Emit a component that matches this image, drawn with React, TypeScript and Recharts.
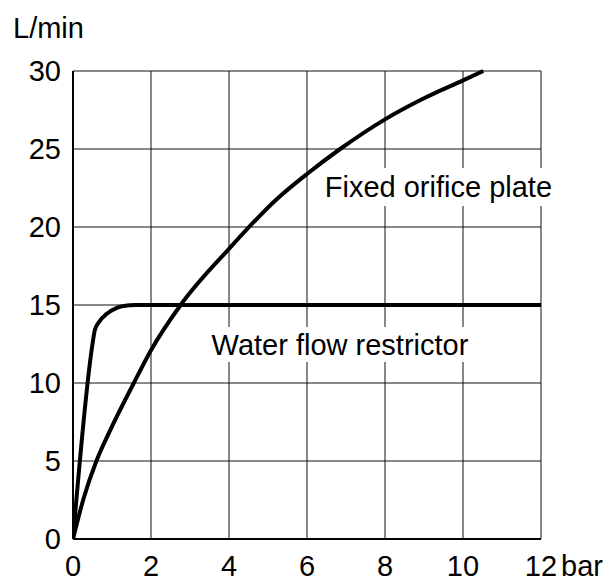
import React from "react";
import {
  LineChart,
  Line,
  XAxis,
  YAxis,
  CartesianGrid,
  ReferenceArea,
} from "recharts";

// pressure (bar) -> flow (L/min)
const orificeBar = [0, 0.26, 0.6, 0.94, 1.56, 2, 2.76, 4, 5.23, 6, 6.85, 8, 9, 10, 10.52];
const orificeFlow = [0, 2.5, 5, 6.9, 10, 12.1, 15, 18.6, 21.8, 23.4, 25, 26.9, 28.25, 29.4, 30];

const restrictorBar = [0, 0.5, 0.56, 0.68, 0.85, 1.11, 1.45, 1.6, 12];
const restrictorFlow = [0, 12.5, 13.4, 13.95, 14.4, 14.8, 14.98, 15, 15];

const xTicks = [0, 2, 4, 6, 8, 10, 12];
const yTicks = [0, 5, 10, 15, 20, 25, 30];

const FONT = "'Liberation Sans', Arial, sans-serif";
const FS = 29;

const toPoints = (xs: number[], ys: number[]) => xs.map((x, i) => ({ x, y: ys[i] }));

const orifice = toPoints(orificeBar, orificeFlow);
const restrictor = toPoints(restrictorBar, restrictorFlow);

function XTick(props: any) {
  const { x, y, payload } = props;
  const last = payload.value === xTicks[xTicks.length - 1];
  return (
    <g>
      <text x={x} y={y} dy="0.71em" textAnchor="middle" fill="#000" fontSize={FS} fontFamily={FONT}>
        {payload.value}
      </text>
      {last && (
        <text x={x + 20} y={y} dy="0.71em" textAnchor="start" fill="#000" fontSize={FS} fontFamily={FONT}>
          bar
        </text>
      )}
    </g>
  );
}

export default function App() {
  return (
    <div style={{ position: "absolute", left: 0, top: 0, background: "#fff" }}>
      <LineChart width={615} height={581} margin={{ top: 71, right: 74, left: 0, bottom: 0 }}>
        <CartesianGrid stroke="#111" strokeWidth={1} horizontalValues={yTicks} verticalValues={xTicks} />
        <XAxis
          type="number"
          dataKey="x"
          domain={[0, 12]}
          ticks={xTicks}
          height={42}
          tickLine={false}
          tickMargin={10}
          axisLine={{ stroke: "#000", strokeWidth: 2 }}
          tick={<XTick />}
          allowDataOverflow
        />
        <YAxis
          type="number"
          dataKey="y"
          domain={[0, 30]}
          ticks={yTicks}
          width={73}
          tickLine={false}
          tickMargin={6}
          axisLine={{ stroke: "#000", strokeWidth: 2 }}
          tick={{ fill: "#000", fontSize: FS, fontFamily: FONT }}
          label={{
            content: (p: any) => (
              <text
                x={p.viewBox.x + 13}
                y={p.viewBox.y - 33}
                fill="#000"
                fontSize={FS}
                fontFamily={FONT}
              >
                L/min
              </text>
            ),
          }}
        />
        <ReferenceArea
          x1={6.25}
          x2={12.5}
          y1={21.35}
          y2={23.78}
          fill="#fff"
          fillOpacity={1}
          stroke="none"
          ifOverflow="visible"
          label={{ value: "Fixed orifice plate", position: "insideLeft", offset: 8, fill: "#000", fontSize: FS, fontFamily: FONT }}
        />
        <ReferenceArea
          x1={3.4}
          x2={10.5}
          y1={11.35}
          y2={13.59}
          fill="#fff"
          fillOpacity={1}
          stroke="none"
          ifOverflow="visible"
          label={{ value: "Water flow restrictor", position: "insideLeft", offset: 6, fill: "#000", fontSize: FS, fontFamily: FONT }}
        />
        <Line
          data={orifice}
          dataKey="y"
          type="monotone"
          stroke="#000"
          strokeWidth={4}
          dot={false}
          isAnimationActive={false}
        />
        <Line
          data={restrictor}
          dataKey="y"
          type="monotone"
          stroke="#000"
          strokeWidth={4}
          dot={false}
          isAnimationActive={false}
        />
      </LineChart>
    </div>
  );
}
